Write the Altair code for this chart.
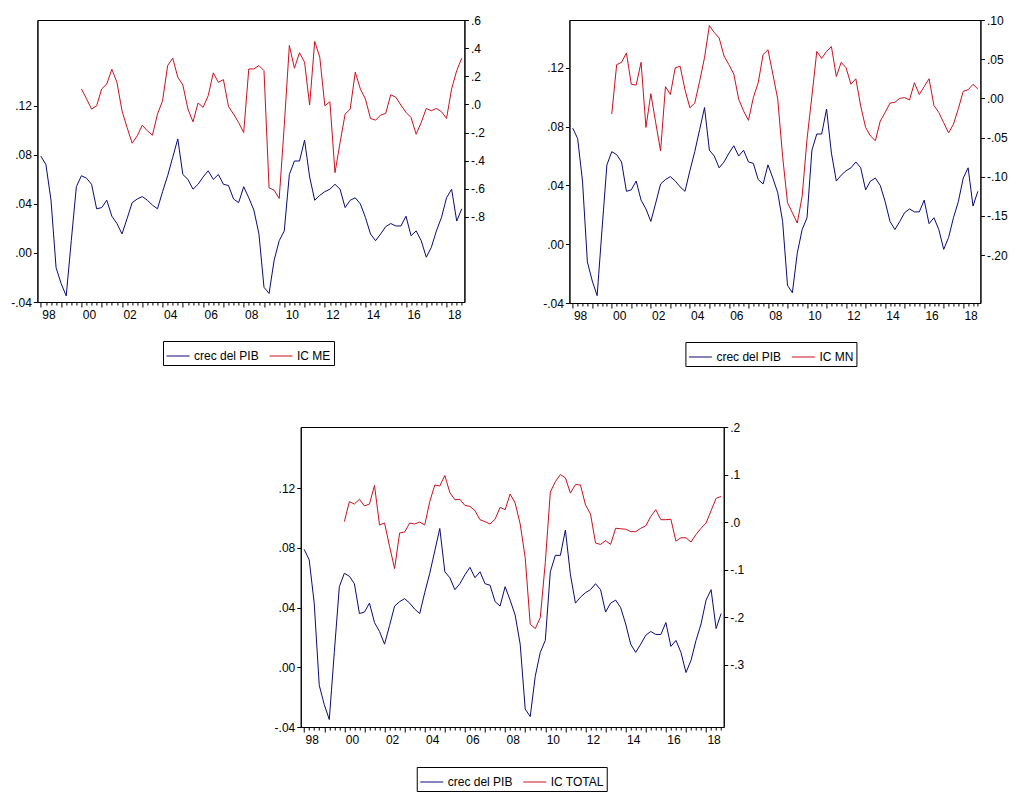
import altair as alt
import pandas as pd

# ---------------- data ----------------
years = list(range(1998, 2019))
quarters = [1, 2, 3, 4]
periods = [f"{y}Q{q}" for y in years for q in quarters]
ic_start = "2000Q1"

pib = [
    0.079, 0.072, 0.043, -0.012, -0.025, -0.035, 0.010, 0.054,
    0.063, 0.061, 0.056, 0.036, 0.037, 0.043, 0.030, 0.024,
    0.0155, 0.028, 0.041, 0.044, 0.046, 0.043, 0.039, 0.036,
    0.050, 0.063, 0.078, 0.093, 0.064, 0.060, 0.052, 0.056,
    0.062, 0.067, 0.060, 0.064, 0.056, 0.055, 0.044, 0.041,
    0.054, 0.045, 0.035, 0.0155, -0.028, -0.033, -0.006, 0.010,
    0.018, 0.064, 0.075, 0.075, 0.092, 0.062, 0.043, 0.047,
    0.050, 0.052, 0.056, 0.052, 0.037, 0.043, 0.045, 0.040,
    0.029, 0.0155, 0.010, 0.0155, 0.0215, 0.024, 0.022, 0.022,
    0.030, 0.014, 0.018, 0.010, -0.0035, 0.0046, 0.018, 0.029,
    0.045, 0.052, 0.026, 0.036,
]

ic_me = [
    0.11, 0.04, -0.033, -0.01, 0.11, 0.145, 0.25, 0.157, -0.045, -0.164,
    -0.276, -0.224, -0.148, -0.188, -0.219, -0.069, 0.026, 0.276, 0.329, 0.193,
    0.138, -0.033, -0.124, 0.01, -0.021, 0.062, 0.224, 0.157, 0.176, -0.015,
    -0.069, -0.129, -0.2, 0.252, 0.252, 0.276, 0.24, -0.593, -0.61, -0.669,
    -0.15, 0.419, 0.257, 0.367, 0.3, -0.005, 0.448, 0.336, -0.01, 0.019,
    -0.486, -0.271, -0.069, -0.033, 0.229, 0.11, 0.038, -0.1, -0.112, -0.076,
    -0.064, 0.069, 0.05, -0.005, -0.057, -0.093, -0.212, -0.129, -0.029, -0.045,
    -0.029, -0.052, -0.1, 0.11, 0.24, 0.329,
]

ic_mn = [
    -0.020, 0.043, 0.046, 0.058, 0.018, 0.017, 0.046, -0.037, 0.006, -0.031,
    -0.067, 0.015, 0.005, 0.039, 0.041, 0.011, -0.012, -0.006, 0.022, 0.052,
    0.093, 0.084, 0.077, 0.054, 0.043, 0.031, -0.001, -0.016, -0.028, 0.001,
    0.020, 0.056, 0.062, 0.031, -0.001, -0.074, -0.133, -0.146, -0.159, -0.125,
    -0.052, 0.003, 0.060, 0.051, 0.060, 0.066, 0.028, 0.046, 0.039, 0.018,
    0.025, -0.010, -0.037, -0.048, -0.054, -0.029, -0.018, -0.006, -0.005, 0.000,
    0.001, -0.002, 0.020, 0.005, 0.015, 0.025, -0.009, -0.018, -0.031, -0.044,
    -0.033, -0.013, 0.009, 0.011, 0.018, 0.012,
]

ic_total = [
    0.001, 0.043, 0.038, 0.048, 0.034, 0.038, 0.077, -0.006, -0.002, -0.051,
    -0.098, -0.023, -0.021, -0.002, -0.004, 0.000, -0.006, 0.043, 0.078, 0.076,
    0.098, 0.062, 0.047, 0.048, 0.035, 0.033, 0.024, 0.005, 0.001, -0.004,
    0.006, 0.031, 0.026, 0.059, 0.040, -0.004, -0.075, -0.215, -0.224, -0.201,
    -0.085, 0.063, 0.085, 0.100, 0.093, 0.061, 0.079, 0.078, 0.036, 0.017,
    -0.044, -0.047, -0.039, -0.047, -0.013, -0.014, -0.015, -0.020, -0.020, -0.013,
    -0.008, 0.012, 0.026, 0.005, 0.005, 0.006, -0.040, -0.033, -0.033, -0.042,
    -0.026, -0.013, -0.002, 0.024, 0.050, 0.054,
]

left_ticks = [-0.04, 0.00, 0.04, 0.08, 0.12]
right_ticks_me = [-0.8, -0.6, -0.4, -0.2, 0.0, 0.2, 0.4, 0.6]
right_ticks_mn = [-0.20, -0.15, -0.10, -0.05, 0.00, 0.05, 0.10]
right_ticks_total = [-0.3, -0.2, -0.1, 0.0, 0.1, 0.2]

PIB_NAME = "crec del PIB"
NAVY = "#0a0a78"
RED = "#cc1020"
FONT = "Liberation Sans, Arial, sans-serif"


def tnum(p):
    y, q = p.split("Q")
    return int(y) + (int(q) - 1) / 4


quarter_ticks = [tnum(p) for p in periods]

IDX = "round((datum.value-1998)*4)"
x_label_expr = (
    f"({IDX} % 4 == 1 && floor({IDX}/4) % 2 == 0) ? "
    f"substring(toString(1998 + floor({IDX}/4)), 2) : ''"
)


def fmt_expr(spec):
    # EViews style: no leading zero, ASCII minus
    return f"replace(replace(format(datum.value, '{spec}'), '0.', '.'), '\u2212', '-')"


def panel(ic_vals, ic_name, w, h, ldom, rdom, rticks, rfmt, lx, ly):
    rows = [{"t": tnum(p), "serie": PIB_NAME, "v": v} for p, v in zip(periods, pib)]
    s = periods.index(ic_start)
    rows += [{"t": tnum(p), "serie": ic_name, "v": v} for p, v in zip(periods[s:], ic_vals)]
    df = pd.DataFrame(rows)

    color = alt.Color(
        "serie:N",
        scale=alt.Scale(domain=[PIB_NAME, ic_name], range=[NAVY, RED]),
        legend=alt.Legend(
            title=None,
            orient="none",
            legendX=lx,
            legendY=ly,
            direction="horizontal",
            strokeColor="black",
            fillColor="white",
            padding=3,
            symbolType="stroke",
            symbolSize=529,
            symbolStrokeWidth=1,
            labelFont=FONT,
            labelFontSize=12,
            labelColor="black",
            labelOffset=4,
            columnPadding=8,
        ),
    )
    x = alt.X(
        "t:Q",
        scale=alt.Scale(domain=[1997.83, 2018.88], nice=False, zero=False),
        axis=alt.Axis(
            title=None,
            values=quarter_ticks,
            labelExpr=x_label_expr,
            labelOverlap=False,
            labelFlush=False,
            labelOffset=2.5,
            labelPadding=4,
            tickSize={"condition": {"test": f"{IDX} % 4 == 0", "value": 5}, "value": 3},
            grid=False,
        ),
    )
    base = alt.Chart(df)
    a = base.transform_filter(alt.datum.serie == PIB_NAME).mark_line(strokeWidth=1).encode(
        x=x,
        y=alt.Y(
            "v:Q",
            scale=alt.Scale(domain=ldom, nice=False, zero=False),
            axis=alt.Axis(title=None, orient="left", values=left_ticks,
                          labelExpr=fmt_expr(".2f"), tickSize=4, labelPadding=2, grid=False),
        ),
        color=color,
    )
    b = base.transform_filter(alt.datum.serie == ic_name).mark_line(strokeWidth=1).encode(
        x=x,
        y=alt.Y(
            "v:Q",
            scale=alt.Scale(domain=rdom, nice=False, zero=False),
            axis=alt.Axis(title=None, orient="right", values=rticks,
                          labelExpr=fmt_expr(rfmt), tickSize=4, labelPadding=2, grid=False),
        ),
        color=color,
    )
    return alt.layer(a, b).resolve_scale(y="independent").properties(width=w, height=h)


p1 = panel(ic_me, "IC ME", 427, 282, [-0.04, 0.19], [-1.405, 0.6], right_ticks_me, ".1f", 125.6, 321)
p2 = panel(ic_mn, "IC MN", 411, 283, [-0.04, 0.1526], [-0.261, 0.10], right_ticks_mn, ".2f", 116, 322)
p3 = panel(ic_total, "IC TOTAL", 423, 300, [-0.04, 0.161], [-0.431, 0.2], right_ticks_total, ".1f", 116, 340)

row1 = alt.hconcat(p1, p2, spacing=56).resolve_scale(color="independent", x="independent", y="independent")
chart = (
    alt.vconcat(row1, p3, spacing=53, center=True)
    .resolve_scale(color="independent", x="independent", y="independent")
    .properties(padding={"left": 2, "top": 5, "right": 0, "bottom": 0}, background="white")
    .configure_view(stroke="black", strokeWidth=1)
    .configure_axis(
        domainColor="black",
        tickColor="black",
        labelColor="black",
        labelFont=FONT,
        labelFontSize=12,
        domainWidth=1,
        tickWidth=1,
    )
)

chart.save("out.html", embed_options={"renderer": "svg", "actions": False})
